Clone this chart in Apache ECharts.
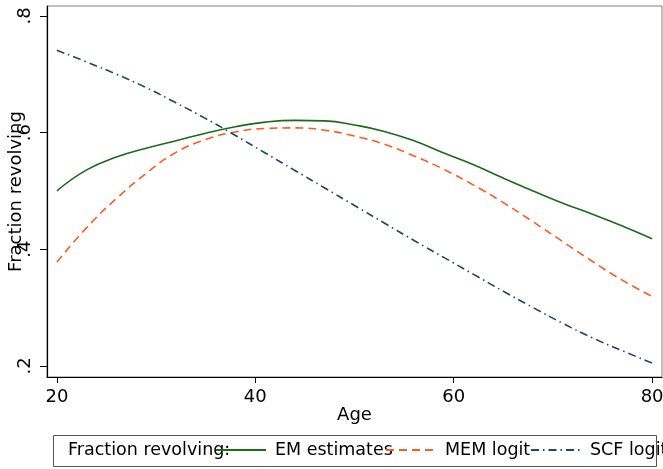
<!DOCTYPE html>
<html><head><meta charset="utf-8">
<script src="https://cdn.jsdelivr.net/npm/echarts@6/dist/echarts.min.js"></script>
<style>html,body{margin:0;padding:0;background:#fff}#c{width:663px;height:469px}</style>
</head><body><div id="c"></div>
<script>
const ages = [20,23,26,29,32,35,38,41,44,47,50,53,56,59,62,65,68,71,74,77,80];
const emEstimates = [0.500,0.536,0.558,0.573,0.586,0.599,0.610,0.618,0.621,0.620,0.613,0.602,0.586,0.565,0.545,0.522,0.500,0.479,0.460,0.440,0.418];
const memLogit = [0.378,0.437,0.487,0.530,0.566,0.588,0.601,0.607,0.608,0.604,0.594,0.580,0.560,0.537,0.510,0.480,0.447,0.413,0.379,0.347,0.319];
const scfLogit = [0.741,0.721,0.700,0.677,0.651,0.624,0.595,0.565,0.535,0.505,0.475,0.445,0.415,0.386,0.357,0.328,0.300,0.273,0.248,0.226,0.205];
const xTicks = [20,40,60,80];
const yTicks = [0.2,0.4,0.6,0.8];
const yTickLabels = ['.2','.4','.6','.8'];
const seriesNames = ['EM estimates','MEM logit','SCF logit'];
const legendTitle = 'Fraction revolving:';

const font = 'DejaVu Sans';
const colors = ['#1b6b1b','#ff5a1f','#1a476f'];
const pair = arr => ages.map((a,i)=>[a,arr[i]]);
const legendLefts = [215,385,530];
const chart = echarts.init(document.getElementById('c'));
chart.setOption({
  animation:false,
  backgroundColor:'#fff',
  textStyle:{fontFamily:font},
  grid:{left:47,right:1,top:6,bottom:92,containLabel:false,outerBoundsMode:'none',show:true,borderColor:'#808080',borderWidth:1},
  xAxis:{type:'value',min:19,max:81,name:'Age',nameLocation:'middle',nameGap:29,nameMoveOverlap:false,
    nameTextStyle:{fontSize:18,color:'#000',fontFamily:font},
    axisLine:{show:true,lineStyle:{color:'#000',width:1.2}},
    axisTick:{show:true,length:6,customValues:xTicks,lineStyle:{color:'#000'}},
    axisLabel:{customValues:xTicks,fontSize:18,color:'#000',margin:11,fontFamily:font},
    splitLine:{show:false}},
  yAxis:{type:'value',min:0.181,max:0.817,name:'Fraction revolving',nameLocation:'middle',nameGap:22,nameMoveOverlap:false,
    nameTextStyle:{fontSize:18,color:'#000',fontFamily:font},
    axisLine:{show:true,lineStyle:{color:'#000',width:1.2}},
    axisTick:{show:true,length:7,customValues:yTicks,lineStyle:{color:'#000'}},
    axisLabel:{customValues:yTicks,rotate:90,fontSize:18,color:'#000',margin:13,fontFamily:font,
      formatter:v=>{const i=yTicks.findIndex(t=>Math.abs(t-v)<1e-6);return i>=0?yTickLabels[i]:'';}},
    splitLine:{show:false}},
  legend:seriesNames.map((n,i)=>({data:[n],left:legendLefts[i],top:441,padding:0,itemWidth:50,itemHeight:10,
    itemStyle:{opacity:0},selectedMode:false,
    textStyle:{fontSize:17.5,color:'#000',fontFamily:font,padding:[0,0,0,4]}})),
  graphic:[
    {type:'rect',shape:{x:53.5,y:435.5,width:603,height:31},style:{fill:'none',stroke:'#555',lineWidth:1},z:-1},
    {type:'text',x:68,y:450,style:{text:legendTitle,fontSize:17.5,fontFamily:font,fill:'#000',verticalAlign:'middle'}}
  ],
  series:[
    {name:seriesNames[0],type:'line',data:pair(emEstimates),smooth:true,symbol:'none',
      lineStyle:{color:colors[0],width:1.6,type:'solid'},itemStyle:{color:colors[0]}},
    {name:seriesNames[1],type:'line',data:pair(memLogit),smooth:true,symbol:'none',
      lineStyle:{color:colors[1],width:1.6,type:[8,5]},itemStyle:{color:colors[1]}},
    {name:seriesNames[2],type:'line',data:pair(scfLogit),smooth:true,symbol:'none',
      lineStyle:{color:colors[2],width:1.6,type:[8,4,1.5,4]},itemStyle:{color:colors[2]}}
  ]
});
</script></body></html>
